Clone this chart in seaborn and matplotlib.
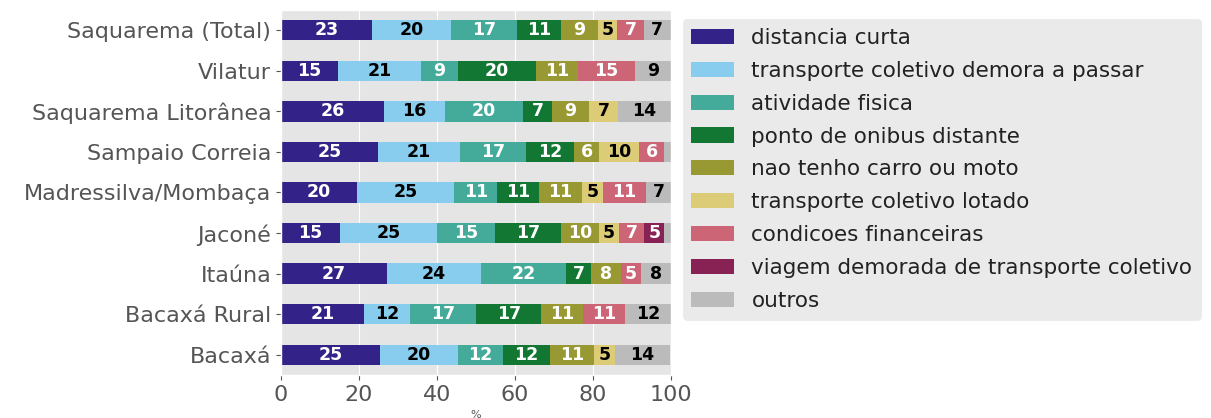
import numpy as np
import pandas as pd
import matplotlib
matplotlib.use('Agg')
import matplotlib.pyplot as plt
from matplotlib.patches import Patch
import seaborn as sns

# Rows (top to bottom) and share (%) of each reason
rows = ['Saquarema (Total)', 'Vilatur', 'Saquarema Litorânea', 'Sampaio Correia',
        'Madressilva/Mombaça', 'Jaconé', 'Itaúna', 'Bacaxá Rural', 'Bacaxá']

distancia = [23.4, 14.6, 26.4, 24.9, 19.6, 15.1, 27.2, 21.2, 25.4]
demora = [20.3, 21.4, 15.6, 21.0, 24.9, 25.0, 24.1, 12.0, 19.9]
atividade = [16.8, 9.3, 20.2, 16.9, 10.9, 14.8, 21.7, 16.9, 11.6]
ponto = [11.3, 20.1, 7.4, 12.4, 10.8, 16.9, 6.6, 16.7, 12.0]
carro = [9.4, 10.7, 9.4, 6.3, 11.0, 9.7, 7.6, 10.7, 11.4]
lotado = [5.1, 0, 7.4, 10.4, 5.4, 5.1, 0, 0, 5.4]
financeiras = [6.7, 14.8, 0, 6.4, 11.0, 6.6, 5.1, 10.7, 0]
viagem = [0, 0, 0, 0, 0, 5.1, 0, 0, 0]
outros = [7.0, 9.0, 13.6, 1.7, 6.6, 1.7, 7.7, 11.8, 14.1]

reasons = ['distancia curta', 'transporte coletivo demora a passar', 'atividade fisica',
           'ponto de onibus distante', 'nao tenho carro ou moto', 'transporte coletivo lotado',
           'condicoes financeiras', 'viagem demorada de transporte coletivo', 'outros']
colors = ['#332288', '#88CCEE', '#44AA99', '#117733', '#999933',
          '#DDCC77', '#CC6677', '#882255', '#BBBBBB']
text_colors = ['white', 'black', 'white', 'white', 'white', 'black', 'white', 'white', 'black']

df = pd.DataFrame(dict(zip(reasons, [distancia, demora, atividade, ponto, carro,
                                     lotado, financeiras, viagem, outros])), index=rows)
cum = df.cumsum(axis=1)

plt.style.use('ggplot')
fig = plt.figure(figsize=(12.11, 4.18), dpi=100)
ax = fig.add_axes([0.232, 0.103, 0.322, 0.873])

# stacked bars: draw cumulative totals from the widest down
for reason, c in reversed(list(zip(reasons, colors))):
    sns.barplot(x=cum[reason].values, y=rows, color=c, orient='h',
                width=0.5, linewidth=0, saturation=1, ax=ax)

# value labels
for j, reason in enumerate(reasons):
    for i, row in enumerate(rows):
        v = df.loc[row, reason]
        if v >= 4:
            ax.text(cum.loc[row, reason] - v / 2, i, '%.0f' % v, ha='center', va='center',
                    color=text_colors[j], fontsize=12.5, fontweight='bold')

ax.set_xlim(0, 100)
ax.set_xticks([0, 20, 40, 60, 80, 100])
ax.tick_params(axis='both', labelsize=16, colors='#555555')
ax.set_xlabel('%', fontsize=8, color='#555555')
ax.set_ylabel('')

handles = [Patch(facecolor=c, label=r) for r, c in zip(reasons, colors)]
leg = ax.legend(handles=handles, loc='upper left', bbox_to_anchor=(1.03, 0.975),
                borderaxespad=0, fontsize=15.5, frameon=True, labelspacing=0.6)
leg.get_frame().set_facecolor('#E5E5E5')
leg.get_frame().set_edgecolor('#E5E5E5')
for t in leg.get_texts():
    t.set_color('#222222')

plt.savefig('out.png', dpi=100)
